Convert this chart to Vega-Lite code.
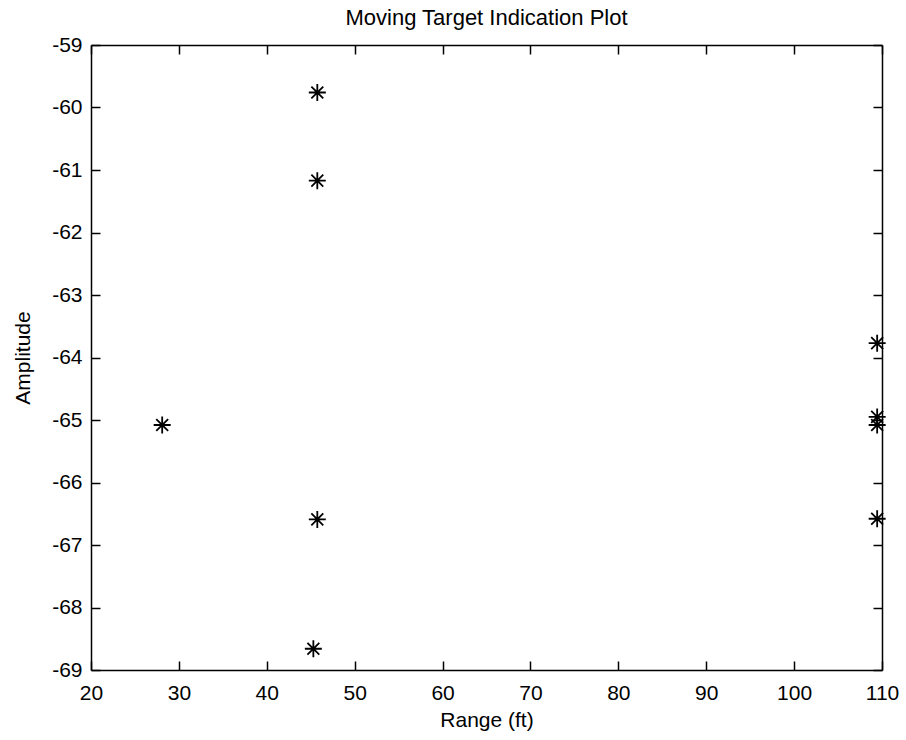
{
  "$schema": "https://vega.github.io/schema/vega-lite/v6.json",
  "width": 791,
  "height": 625,
  "autosize": {"type": "none"},
  "padding": {"left": 91, "top": 45, "right": 24, "bottom": 70},
  "background": "white",
  "title": {
    "text": "Moving Target Indication Plot",
    "font": "Liberation Sans",
    "fontSize": 22,
    "fontWeight": "normal",
    "color": "black",
    "anchor": "middle",
    "offset": 4
  },
  "config": {
    "view": {"stroke": null},
    "axis": {
      "domainColor": "black",
      "domainWidth": 1.5,
      "tickColor": "black",
      "tickWidth": 1.5,
      "tickSize": -9,
      "grid": false,
      "labelFlush": false,
      "labelOverlap": false,
      "labelFont": "Liberation Sans",
      "labelFontSize": 21,
      "labelColor": "black",
      "titleFont": "Liberation Sans",
      "titleFontSize": 21,
      "titleFontWeight": "normal",
      "titleColor": "black"
    }
  },
  "data": {
    "values": [
      {"range": 45.75, "amplitude": -59.76},
      {"range": 45.75, "amplitude": -61.17},
      {"range": 28.1, "amplitude": -65.08},
      {"range": 45.75, "amplitude": -66.59},
      {"range": 45.3, "amplitude": -68.66},
      {"range": 109.45, "amplitude": -63.77},
      {"range": 109.45, "amplitude": -64.95},
      {"range": 109.45, "amplitude": -65.08},
      {"range": 109.45, "amplitude": -66.58}
    ]
  },
  "layer": [
    {
      "mark": {
        "type": "point",
        "shape": "M-1,0L1,0M0,-1L0,1M-0.7,-0.7L0.7,0.7M-0.7,0.7L0.7,-0.7",
        "filled": false,
        "stroke": "black",
        "strokeWidth": 1.8,
        "size": 289,
        "opacity": 1
      },
      "encoding": {
        "x": {
          "field": "range",
          "type": "quantitative",
          "scale": {"domain": [20, 110], "nice": false, "zero": false},
          "axis": {
            "orient": "bottom",
            "title": "Range (ft)",
            "values": [20, 30, 40, 50, 60, 70, 80, 90, 100, 110],
            "labelExpr": "datum.value + ''",
            "labelPadding": 21,
            "titlePadding": 6
          }
        },
        "y": {
          "field": "amplitude",
          "type": "quantitative",
          "scale": {"domain": [-69, -59], "nice": false, "zero": false},
          "axis": {
            "orient": "left",
            "title": "Amplitude",
            "values": [-69, -68, -67, -66, -65, -64, -63, -62, -61, -60, -59],
            "labelExpr": "datum.value + ''",
            "labelPadding": 18,
            "titlePadding": 18
          }
        }
      }
    },
    {
      "mark": {"type": "point", "opacity": 0},
      "encoding": {
        "x": {
          "field": "range",
          "type": "quantitative",
          "scale": {"domain": [20, 110], "nice": false, "zero": false},
          "axis": {
            "orient": "top",
            "title": null,
            "labels": false,
            "values": [20, 30, 40, 50, 60, 70, 80, 90, 100, 110]
          }
        },
        "y": {
          "field": "amplitude",
          "type": "quantitative",
          "scale": {"domain": [-69, -59], "nice": false, "zero": false},
          "axis": {
            "orient": "right",
            "title": null,
            "labels": false,
            "values": [-69, -68, -67, -66, -65, -64, -63, -62, -61, -60, -59]
          }
        }
      }
    }
  ],
  "resolve": {"axis": {"x": "independent", "y": "independent"}}
}
